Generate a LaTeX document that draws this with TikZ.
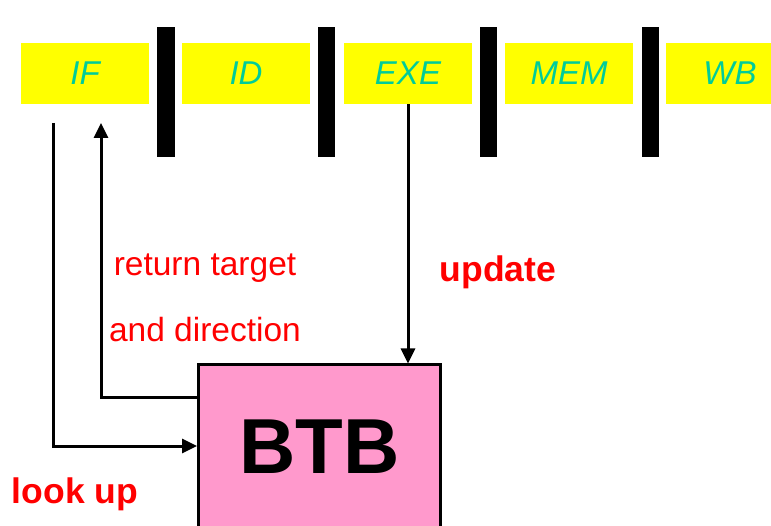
\documentclass[tikz,border=0pt]{standalone}
\usepackage{fontspec}
\setmainfont{Liberation Sans}
\usepackage{xcolor}
\usetikzlibrary{arrows.meta}

\definecolor{stagefill}{RGB}{255,255,0}
\definecolor{stagetext}{RGB}{0,204,153}
\definecolor{btbfill}{RGB}{255,153,204}

\tikzset{
  stage/.style={fill=stagefill, text=stagetext, minimum width=128pt, minimum height=61pt,
    inner sep=0pt, font=\fontsize{33}{36}\selectfont\itshape},
  conn/.style={line width=3pt, -{Triangle[length=15pt,width=14pt]}},
  lbl/.style={text=red, inner sep=0pt, font=\fontsize{33.5}{36}\selectfont},
  bigl/.style={text=red, inner sep=0pt, font=\fontsize{35.5}{40}\selectfont\bfseries}
}

\begin{document}
\begin{tikzpicture}[x=1pt, y=-1pt]
  \useasboundingbox (0,0) rectangle (771,526);

  % pipeline stages
  \node[stage] (if)  at (85,73.5)  {IF};
  \node[stage] (id)  at (246,73.5) {ID};
  \node[stage] (exe) at (408,73.5) {EXE};
  \node[stage] (mem) at (569,73.5) {MEM};
  \node[stage] (wb)  at (730,73.5) {WB};

  % pipeline registers
  \fill (157,27) rectangle (175,157);
  \fill (318,27) rectangle (335,157);
  \fill (480,27) rectangle (497,157);
  \fill (642,27) rectangle (659,157);

  % branch target buffer
  \node[draw, line width=3pt, fill=btbfill, minimum width=242pt, minimum height=164pt,
        font=\fontsize{78}{84}\selectfont\bfseries] (btb) at (319.5,447) {BTB};

  \coordinate (lu) at (53,123);
  \coordinate (rt) at (101,123);
  \draw[conn] (lu) |- (btb.west |- 0,446);
  \draw[conn] (btb.west |- 0,398) -| (rt);
  \draw[conn] (exe.south) -- (exe.south |- btb.north);

  \node[lbl]  (ret) at (205,268) {return target};
  \node[lbl]  (dir) at (205,330) {and direction};
  \node[bigl] (upd) at (498,272) {update};
  \node[bigl] (lkp) at (75,494)  {look up};
\end{tikzpicture}
\end{document}
